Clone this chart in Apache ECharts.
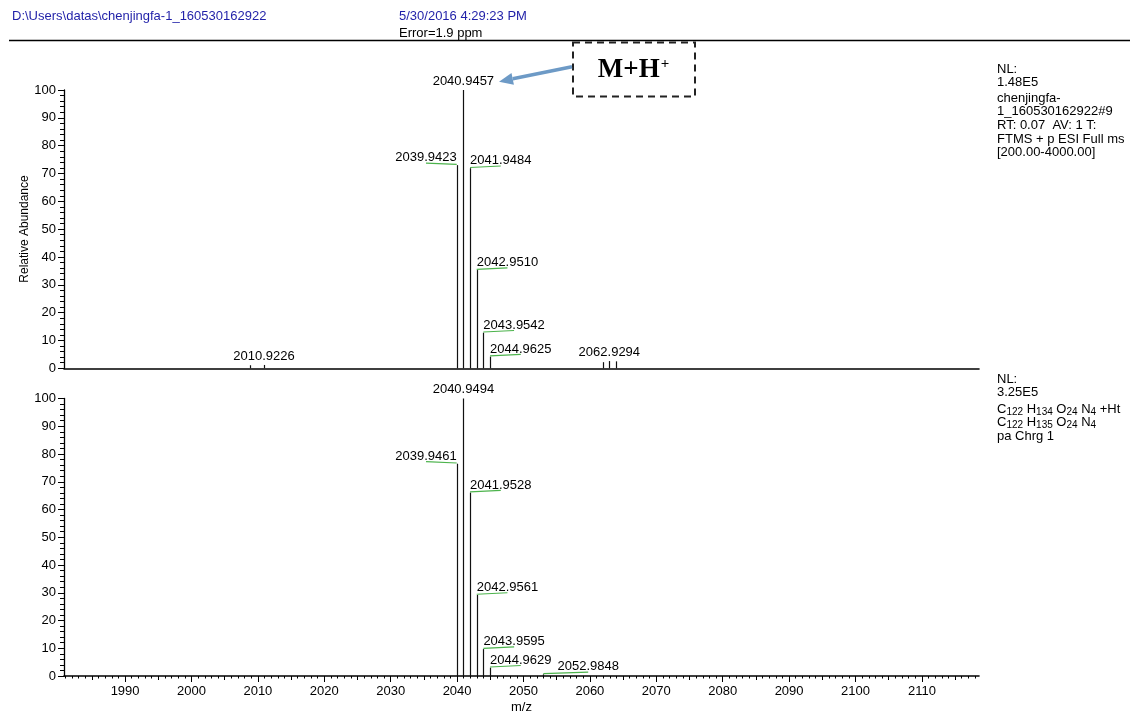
<!DOCTYPE html>
<html><head><meta charset="utf-8">
<script src="https://cdn.jsdelivr.net/npm/echarts@6/dist/echarts.min.js"></script>
<style>html,body{margin:0;padding:0;background:#fff}#c{width:1130px;height:717px}</style>
</head><body><div id="c"></div>
<script>
// ---- data ----
const topMz = [2008.80, 2010.9226, 2039.9423, 2040.9457, 2041.9484, 2042.9510, 2043.9542, 2044.9625, 2061.93, 2062.9294, 2063.93];
const topAb = [1.1, 1.2, 73.0, 100, 71.9, 35.3, 12.8, 4.2, 2.2, 2.6, 2.5];
const topLabels = ['', '2010.9226', '2039.9423', '2040.9457', '2041.9484', '2042.9510', '2043.9542', '2044.9625', '', '2062.9294', ''];
const botMz = [2039.9461, 2040.9494, 2041.9528, 2042.9561, 2043.9595, 2044.9629, 2052.9848];
const botAb = [76.5, 100, 66.1, 29.2, 9.7, 3.0, 0.6];
const botLabels = ['2039.9461', '2040.9494', '2041.9528', '2042.9561', '2043.9595', '2044.9629', '2052.9848'];
const xTickLabels = [1990, 2000, 2010, 2020, 2030, 2040, 2050, 2060, 2070, 2080, 2090, 2100, 2110];
const xMin = 1980.8, xMax = 2118.6;
const topInfo = ['NL:', '1.48E5', 'chenjingfa-', '1_160530162922#9', 'RT: 0.07  AV: 1 T:', 'FTMS + p ESI Full ms', '[200.00-4000.00]'];
const botInfo = ['NL:', '3.25E5', '{n|C}{s|122}{n| H}{s|134}{n| O}{s|24}{n| N}{s|4}{n| +Ht}', '{n|C}{s|122}{n| H}{s|135}{n| O}{s|24}{n| N}{s|4}', 'pa Chrg 1'];

// ---- derived tick lists ----
const xMidTicks = [], xMinorTicks = [];
for (let v = Math.ceil(xMin); v <= Math.floor(xMax); v++) {
  if (v % 10 === 0) continue;
  if (v % 5 === 0) xMidTicks.push(v); else xMinorTicks.push(v);
}

const FONT = '"Liberation Sans", Arial, sans-serif';
const mctx = document.createElement('canvas').getContext('2d');
mctx.font = '13px ' + FONT;
const tw = s => mctx.measureText(s).width;

function layoutLabels(mz, ab, labels, api) {
  let maxI = 0; ab.forEach((v, i) => { if (v > ab[maxI]) maxI = i; });
  const out = [], boxes = [], h = 13;
  for (let i = 0; i < mz.length; i++) {
    if (!labels[i]) { out.push(null); continue; }
    const p = api.coord([mz[i], ab[i]]);
    const w = tw(labels[i]);
    let x0, cy, green = null;
    const far = Math.abs(mz[i] - mz[maxI]) > 15;
    if (i === maxI || far) { x0 = p[0] - w / 2; cy = p[1] - 9; }
    else if (mz[i] < mz[maxI]) {
      x0 = p[0] - w; cy = p[1] - 7.5;
      green = [x0 + w / 2, p[1] - 2, p[0], p[1] - 0.7];
    } else {
      cy = p[1] - 7.5; x0 = p[0];
      boxes.forEach(b => {
        if (cy + h / 2 > b.y0 && cy - h / 2 < b.y1 && x0 < b.x1 + 6 && x0 + w > b.x0 - 6) x0 = b.x1 + 6;
      });
      green = [p[0], p[1] - 0.7, x0 + w / 2, p[1] - 2.2];
    }
    boxes.push({ x0: x0, x1: x0 + w, y0: cy - h / 2, y1: cy + h / 2 });
    out.push({ x0: x0, cy: cy, green: green });
  }
  return out;
}

function makeRender(mzA, abA, labA) {
  return function (params, api) {
    const idx = api.value(2);
    const top = api.coord([api.value(0), api.value(1)]);
    const base = api.coord([api.value(0), 0]);
    const x = Math.round(top[0]) + 0.5;
    const children = [{
      type: 'line', shape: { x1: x, y1: top[1], x2: x, y2: base[1] },
      style: { stroke: '#111', lineWidth: 1.2 }
    }];
    const L = layoutLabels(mzA, abA, labA, api)[idx];
    if (L) {
      if (L.green) children.push({
        type: 'line', shape: { x1: L.green[0], y1: L.green[1], x2: L.green[2], y2: L.green[3] },
        style: { stroke: '#4cb34c', lineWidth: 1.2 }
      });
      children.push({
        type: 'text', x: L.x0, y: L.cy,
        style: { text: labA[idx], font: '13px ' + FONT, fill: '#000', align: 'left', verticalAlign: 'middle', textAlign: 'left', textVerticalAlign: 'middle' }
      });
    }
    return { type: 'group', children: children };
  };
}

const axisLineStyle = { color: '#000', width: 1.6 };
function yAx(g) {
  return {
    gridIndex: g, type: 'value', min: 0, max: 100, interval: 10,
    axisLine: { show: true, lineStyle: { color: '#000', width: 1.3 } },
    axisTick: { show: true, length: 6, lineStyle: { color: '#000', width: 1 } },
    minorTick: { show: true, splitNumber: 5, length: 4, lineStyle: { color: '#000', width: 1 } },
    axisLabel: { fontSize: 13, fontFamily: FONT, color: '#000', margin: 8 },
    splitLine: { show: false }, minorSplitLine: { show: false }
  };
}
function tickAx(vals, len) {
  return {
    gridIndex: 1, type: 'value', min: xMin, max: xMax, position: 'bottom',
    axisLine: { show: false }, axisLabel: { show: false }, splitLine: { show: false },
    axisTick: { show: true, length: len, customValues: vals, lineStyle: { color: '#000', width: 1 } }
  };
}

const txt = (x, y, text, extra) => ({
  type: 'text', x: x, y: y, silent: true,
  style: Object.assign({ text: text, font: '13px ' + FONT, fill: '#000', align: 'left', verticalAlign: 'middle', textAlign: 'left', textVerticalAlign: 'middle' }, extra || {})
});

const rich = {
  n: { fontSize: 13, fontFamily: FONT, color: '#000', lineHeight: 13 },
  s: { fontSize: 10, fontFamily: FONT, color: '#000', lineHeight: 10, padding: [6, 0, 0, 0] }
};
const topInfoY = [69, 82.5, 98, 111.5, 125, 139, 152.5];
const botInfoY = [379, 392.5, 409, 422.5, 436];

const graphics = [
  txt(12, 16.5, 'D:\\Users\\datas\\chenjingfa-1_160530162922', { fill: '#1f1fa8' }),
  txt(399, 16.5, '5/30/2016 4:29:23 PM', { fill: '#1f1fa8' }),
  txt(399, 33, 'Error=1.9 ppm'),
  { type: 'line', silent: true, shape: { x1: 9, y1: 40.5, x2: 1130, y2: 40.5 }, style: { stroke: '#000', lineWidth: 1.5 } },
  { type: 'rect', silent: true, shape: { x: 573, y: 42.5, width: 122, height: 54 }, style: { fill: 'none', stroke: '#222', lineWidth: 2, lineDash: [7, 5] } },
  { type: 'line', silent: true, shape: { x1: 572, y1: 66.7, x2: 512.7, y2: 78.8 }, style: { stroke: '#6d9ac6', lineWidth: 3.5 } },
  { type: 'polygon', silent: true, shape: { points: [[499, 81.7], [511.5, 72.9], [513.9, 84.7]] }, style: { fill: '#6d9ac6' } },
  { type: 'text', x: 633.5, y: 70, silent: true, style: {
      text: '{a|M+H}{b|+}', align: 'center', verticalAlign: 'middle', textAlign: 'center', textVerticalAlign: 'middle',
      rich: { a: { fontSize: 27, fontWeight: 'bold', fontFamily: '"Liberation Serif", "Times New Roman", serif', color: '#111' },
              b: { fontSize: 15, fontWeight: 'bold', fontFamily: '"Liberation Serif", "Times New Roman", serif', color: '#111', padding: [0, 0, 12, 1] } } } },
  { type: 'text', x: 25, y: 229, rotation: Math.PI / 2, silent: true,
    style: { text: 'Relative Abundance', font: '12px ' + FONT, fill: '#000', align: 'center', verticalAlign: 'middle', textAlign: 'center', textVerticalAlign: 'middle' } }
];
topInfo.forEach((t, i) => graphics.push(txt(997, topInfoY[i], t)));
botInfo.forEach((t, i) => {
  if (t.indexOf('{') === 0) graphics.push({ type: 'text', x: 997, y: botInfoY[i], silent: true, style: { text: t, rich: rich, align: 'left', verticalAlign: 'middle', textAlign: 'left', textVerticalAlign: 'middle' } });
  else graphics.push(txt(997, botInfoY[i], t));
});

const chart = echarts.init(document.getElementById('c'));
chart.setOption({
  animation: false,
  backgroundColor: '#fff',
  grid: [
    { left: 64, top: 90, width: 915, height: 278.3 },
    { left: 64, top: 398.5, width: 915, height: 277.5 }
  ],
  xAxis: [
    { gridIndex: 0, type: 'value', min: xMin, max: xMax, position: 'bottom',
      axisLine: { show: true, onZero: false, lineStyle: axisLineStyle },
      axisTick: { show: false }, axisLabel: { show: false }, splitLine: { show: false } },
    { gridIndex: 1, type: 'value', min: xMin, max: xMax, position: 'bottom',
      axisLine: { show: true, onZero: false, lineStyle: axisLineStyle },
      axisTick: { show: true, length: 6, customValues: xTickLabels, lineStyle: { color: '#000', width: 1 } },
      axisLabel: { customValues: xTickLabels, formatter: v => String(Math.round(v)), fontSize: 13, fontFamily: FONT, color: '#000', margin: 9 },
      splitLine: { show: false },
      name: 'm/z', nameLocation: 'middle', nameGap: 25, nameTextStyle: { fontSize: 13, fontFamily: FONT, color: '#000' } },
    tickAx(xMidTicks, 4),
    tickAx(xMinorTicks, 2.5)
  ],
  yAxis: [yAx(0), yAx(1)],
  graphic: graphics,
  series: [
    { type: 'custom', xAxisIndex: 0, yAxisIndex: 0, clip: false, silent: true,
      renderItem: makeRender(topMz, topAb, topLabels),
      encode: { x: 0, y: 1 }, data: topMz.map((m, i) => [m, topAb[i], i]) },
    { type: 'custom', xAxisIndex: 1, yAxisIndex: 1, clip: false, silent: true,
      renderItem: makeRender(botMz, botAb, botLabels),
      encode: { x: 0, y: 1 }, data: botMz.map((m, i) => [m, botAb[i], i]) }
  ]
});
</script></body></html>
